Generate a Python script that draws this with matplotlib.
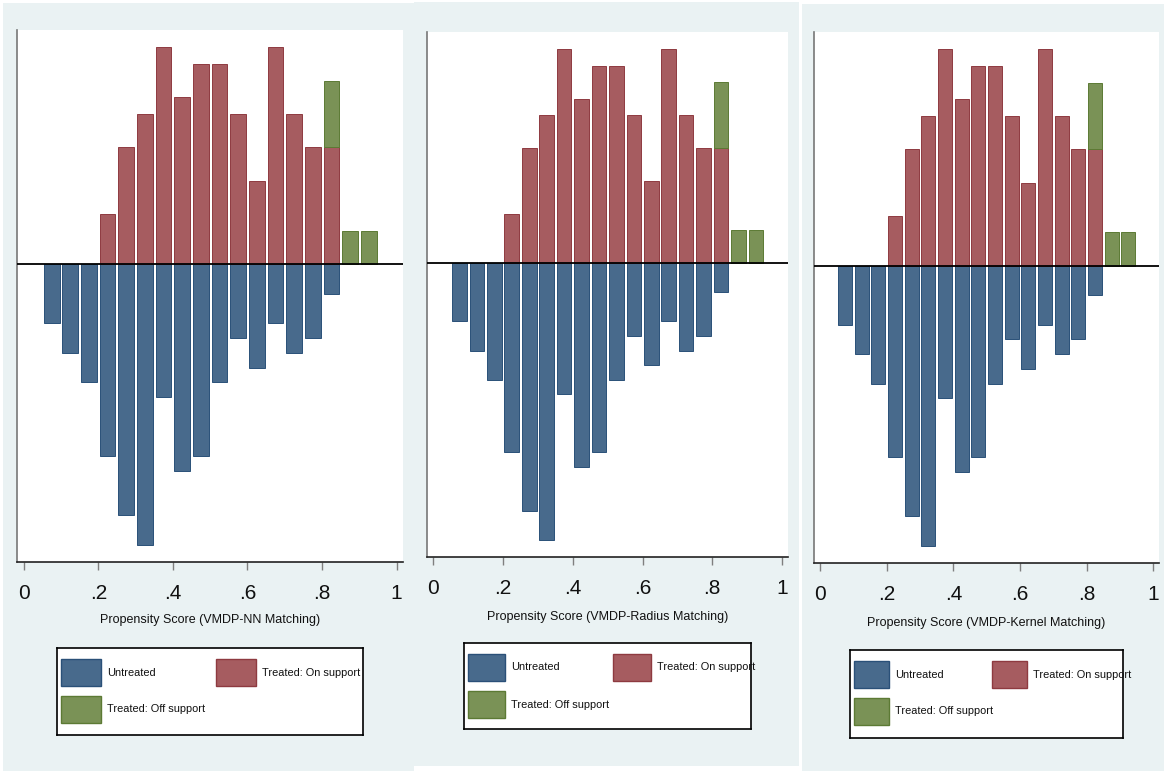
"""Propensity-score overlap graphs for three matching estimators (psgraph style)."""

import matplotlib.pyplot as plt
import numpy as np
from matplotlib.patches import Rectangle

W, H = 1164, 771

BLUE = "#486a8c"
BLUE_EDGE = "#2a5078"
RED = "#a65c60"
RED_EDGE = "#8e3a40"
GREEN = "#7a9256"
GREEN_EDGE = "#5c7a34"
REGION = "#eaf2f3"

FONT = ["Liberation Sans", "DejaVu Sans"]

# bin midpoints of the propensity score and counts per bin
bins = [0.075, 0.125, 0.175, 0.225, 0.275, 0.325, 0.375, 0.425, 0.475,
        0.525, 0.575, 0.625, 0.675, 0.725, 0.775, 0.825, 0.875, 0.925]
untreated = [4, 6, 8, 13, 17, 19, 9, 14, 13, 8, 5, 7, 4, 6, 5, 2, 0, 0]
treated_on = [0, 0, 0, 3, 7, 9, 13, 10, 12, 12, 9, 5, 13, 9, 7, 7, 0, 0]
treated_off = [0, 0, 0, 0, 0, 0, 0, 0, 0, 0, 0, 0, 0, 0, 0, 4, 2, 2]

xlabels = [
    "Propensity Score (VMDP-NN Matching)",
    "Propensity Score (VMDP-Radius Matching)",
    "Propensity Score (VMDP-Kernel Matching)",
]
tick_vals = [0, 0.2, 0.4, 0.6, 0.8, 1]
tick_text = ["0", ".2", ".4", ".6", ".8", "1"]
legend_names = ["Untreated", "Treated: On support", "Treated: Off support"]

# pixel layout of each panel: background, plot region, label line, legend box
panels = [
    dict(bg=(3, 3, 414, 771), plot=(17, 30, 403, 562), label_y=620,
         leg=(57, 648, 363, 735)),
    dict(bg=(414, 2, 799, 766), plot=(427, 32, 788, 557), label_y=617,
         leg=(464, 643, 751, 729)),
    dict(bg=(802, 4, 1164, 771), plot=(814, 32, 1159, 563), label_y=623,
         leg=(850, 650, 1123, 738)),
]


def fig_box(x0, y0, x1, y1):
    return [x0 / W, 1 - y1 / H, (x1 - x0) / W, (y1 - y0) / H]


x = np.array(bins)
u = np.array(untreated) / np.sum(untreated)
t_total = np.sum(treated_on) + np.sum(treated_off)
t_on = np.array(treated_on) / t_total
t_off = np.array(treated_off) / t_total

fig = plt.figure(figsize=(W / 100, H / 100), dpi=100, facecolor="white")

for i, p in enumerate(panels):
    bx0, by0, bx1, by1 = p["bg"]
    fig.add_artist(Rectangle((bx0 / W, 1 - by1 / H), (bx1 - bx0) / W, (by1 - by0) / H,
                             transform=fig.transFigure, facecolor=REGION,
                             edgecolor="none", zorder=0))

    ax = fig.add_axes(fig_box(*p["plot"]))
    ax.set_facecolor("white")
    bw = 0.042
    m = u > 0
    ax.bar(x[m], -u[m], width=bw, color=BLUE, edgecolor=BLUE_EDGE, lw=0.7, zorder=2)
    m = t_on > 0
    ax.bar(x[m], t_on[m], width=bw, color=RED, edgecolor=RED_EDGE, lw=0.7, zorder=2)
    m = t_off > 0
    ax.bar(x[m], t_off[m], bottom=t_on[m], width=bw, color=GREEN,
           edgecolor=GREEN_EDGE, lw=0.7, zorder=2)
    ax.axhline(0, color="black", lw=1.3, zorder=3)

    ax.set_xlim(-0.018, 1.017)
    ax.set_ylim(-0.1441, 0.1133)
    ax.set_yticks([])
    ax.set_xticks(tick_vals)
    ax.set_xticklabels(tick_text, family=FONT, fontsize=15, color="#111111")
    ax.tick_params(axis="x", length=6, width=1, color="#7f7f7f", pad=10)
    for s in ("top", "right"):
        ax.spines[s].set_visible(False)
    ax.spines["left"].set_color("#777777")
    ax.spines["left"].set_linewidth(1.2)
    ax.spines["bottom"].set_color("#222222")
    ax.spines["bottom"].set_linewidth(1.2)

    px0, py0, px1, py1 = p["plot"]
    ax.set_xlabel(xlabels[i], family=FONT, fontsize=9, color="#111111", va="center")
    ax.xaxis.set_label_coords(0.5, (py1 - p["label_y"]) / (py1 - py0))

    # legend drawn in pixel units inside its own framed box
    lx0, ly0, lx1, ly1 = p["leg"]
    lg = fig.add_axes(fig_box(lx0, ly0, lx1, ly1))
    lg.set_xlim(0, lx1 - lx0)
    lg.set_ylim(ly1 - ly0, 0)
    lg.set_xticks([])
    lg.set_yticks([])
    for s in lg.spines.values():
        s.set_color("black")
        s.set_linewidth(1.2)
    lw_box = lx1 - lx0
    sw_w = 0.13 * lw_box
    col2 = 0.52 * lw_box
    sw_h = 27
    entries = [(4, 11, BLUE, BLUE_EDGE, legend_names[0]),
               (col2, 11, RED, RED_EDGE, legend_names[1]),
               (4, 48, GREEN, GREEN_EDGE, legend_names[2])]
    for ex, ey, fc, ec, name in entries:
        lg.add_patch(Rectangle((ex, ey), sw_w, sw_h, facecolor=fc, edgecolor=ec, lw=1))
        lg.text(ex + sw_w + 6, ey + sw_h / 2, name, family=FONT, fontsize=7.9,
                color="#111111", ha="left", va="center")

fig.savefig("out.png", dpi=100, facecolor="white")
